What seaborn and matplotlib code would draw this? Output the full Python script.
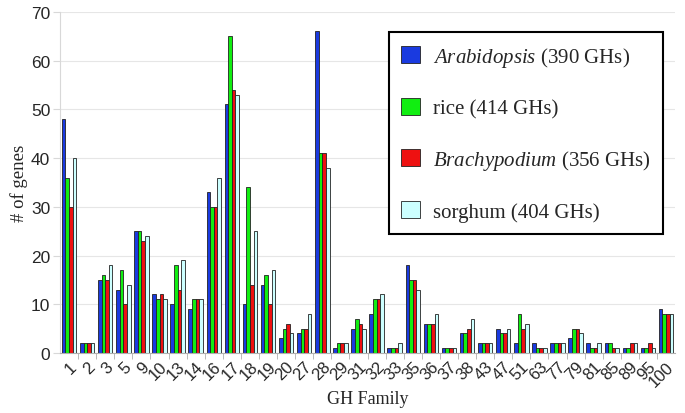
import pandas as pd
import matplotlib.pyplot as plt
import seaborn as sns

# GH families on the x axis
families = ['1', '2', '3', '5', '9', '10', '13', '14', '16', '17', '18', '19', '20',
            '27', '28', '29', '31', '32', '33', '35', '36', '37', '38', '43', '47',
            '51', '63', '77', '79', '81', '85', '89', '95', '100']

# gene counts per species
arabidopsis = [48, 2, 15, 13, 25, 12, 10, 9, 33, 51, 10, 14, 3, 4, 66, 1, 5, 8, 1,
               18, 6, 1, 4, 2, 5, 2, 2, 2, 3, 2, 2, 1, 1, 9]
rice = [36, 2, 16, 17, 25, 11, 18, 11, 30, 65, 34, 16, 5, 5, 41, 2, 7, 11, 1,
        15, 6, 1, 4, 2, 4, 8, 1, 2, 5, 1, 2, 1, 1, 8]
brachypodium = [30, 2, 15, 10, 23, 12, 13, 11, 30, 54, 14, 10, 6, 5, 41, 2, 6, 11, 1,
                15, 6, 1, 5, 2, 4, 5, 1, 2, 5, 1, 1, 2, 2, 8]
sorghum = [40, 2, 18, 14, 24, 11, 19, 11, 36, 53, 25, 17, 4, 8, 38, 2, 5, 12, 2,
           13, 8, 1, 7, 2, 5, 6, 1, 2, 4, 2, 1, 2, 1, 8]

species = ['Arabidopsis', 'rice', 'Brachypodium', 'sorghum']
legend_labels = [r'$\mathit{Arabidopsis}$ (390 GHs)', 'rice (414 GHs)',
                 r'$\mathit{Brachypodium}$ (356 GHs)', 'sorghum (404 GHs)']
colors = ['#1a3ae0', '#11ee11', '#ee1111', '#ccffff']

rows = []
for sp, vals in zip(species, [arabidopsis, rice, brachypodium, sorghum]):
    for fam, v in zip(families, vals):
        rows.append({'Family': fam, 'Species': sp, 'Genes': v})
df = pd.DataFrame(rows)

sns.set_style('white')
plt.rcParams['mathtext.fontset'] = 'custom'
plt.rcParams['mathtext.it'] = 'Liberation Serif:italic'
plt.rcParams['mathtext.rm'] = 'Liberation Serif'
plt.rcParams['font.family'] = ['Liberation Sans', 'DejaVu Sans']

fig = plt.figure(figsize=(6.85, 4.14), dpi=100)
ax = fig.add_axes([0.0876, 0.145, 0.898, 0.824])

sns.barplot(data=df, x='Family', y='Genes', hue='Species', order=families,
            hue_order=species, palette=colors, saturation=1, width=0.8,
            edgecolor='#222222', linewidth=0.6, ax=ax)

ax.set_ylim(0, 70)
ax.set_xlim(-0.5, len(families) - 0.5)
ax.set_yticks(range(0, 71, 10))
ax.yaxis.grid(True, color='#e6e6e6', linewidth=0.8)
ax.set_axisbelow(True)

for s in ['top', 'right']:
    ax.spines[s].set_visible(False)
ax.spines['left'].set_color('#d8d8d8')
ax.spines['bottom'].set_color('#b0b0b0')

ax.tick_params(axis='y', labelsize=12.5, length=5, color='#d8d8d8', left=True, pad=2)
ax.tick_params(axis='x', which='major', labelsize=12, length=0, pad=4)
ax.set_xticks([i + 0.5 for i in range(len(families) - 1)], minor=True)
ax.tick_params(axis='x', which='minor', length=4, color='#b0b0b0', bottom=True)
plt.setp(ax.get_xticklabels(), rotation=45, ha='right', rotation_mode='anchor')

ax.set_ylabel('# of genes', fontsize=13.5, family='Liberation Serif', labelpad=2)
ax.set_xlabel('GH Family', fontsize=13, family='Liberation Serif', labelpad=1)

handles, _ = ax.get_legend_handles_labels()
leg = ax.legend(handles, legend_labels, loc='upper right',
                bbox_to_anchor=(0.968, 0.920), bbox_transform=fig.transFigure,
                prop={'family': 'Liberation Serif', 'size': 15},
                frameon=True, fancybox=False, edgecolor='black', framealpha=1,
                handlelength=0.9, handleheight=0.9, handletextpad=0.6,
                labelspacing=1.4, borderpad=0.6, borderaxespad=0)
leg.get_frame().set_linewidth(1.5)

fig.savefig('out.png', dpi=100)
